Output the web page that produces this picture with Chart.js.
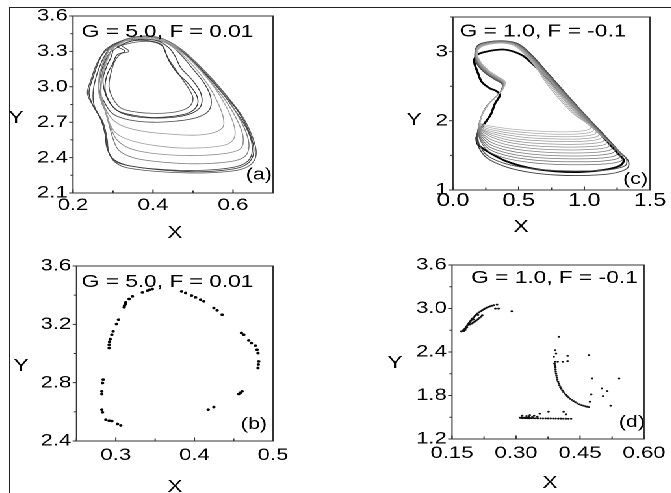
<!DOCTYPE html>
<html>
<head>
<meta charset="utf-8">
<script src="https://cdn.jsdelivr.net/npm/chart.js@4.4.1/dist/chart.umd.min.js"></script>
<style>
  html, body { margin: 0; padding: 0; background: #fff; }
  body { width: 671px; height: 493px; position: relative; overflow: hidden; }
  #frame { position: absolute; left: 9px; top: 7px; right: 0; bottom: 0;
           border-left: 1px solid #222; border-top: 1px solid #222; }
  /* the original figure is stretched sideways, so is this one */
  #wrap { position: absolute; left: 0; top: 0; width: 516px; height: 493px;
          transform: scaleX(1.3); transform-origin: 0 0; }
  #wrap canvas { position: absolute; left: 0; top: 0; }
</style>
</head>
<body>
<div id="frame"></div>
<div id="wrap">
  <canvas id="chartA" width="516" height="493"></canvas>
  <canvas id="chartB" width="516" height="493"></canvas>
  <canvas id="chartC" width="516" height="493"></canvas>
  <canvas id="chartD" width="516" height="493"></canvas>
</div>
<script>
// ---------- axes ----------
const aXTicks = [0.2, 0.3, 0.4, 0.5, 0.6, 0.7];
const aXLabels = ['0.2', '', '0.4', '', '0.6', ''];
const aYTicks = [2.1, 2.25, 2.4, 2.55, 2.7, 2.85, 3.0, 3.15, 3.3, 3.45, 3.6];
const aYLabels = ['2.1', '', '2.4', '', '2.7', '', '3.0', '', '3.3', '', '3.6'];

const bXTicks = [0.25, 0.3, 0.35, 0.4, 0.45, 0.5];
const bXLabels = ['', '0.3', '', '0.4', '', '0.5'];
const bYTicks = [2.4, 2.6, 2.8, 3.0, 3.2, 3.4, 3.6];
const bYLabels = ['2.4', '', '2.8', '', '3.2', '', '3.6'];

const cXTicks = [0, 0.25, 0.5, 0.75, 1.0, 1.25, 1.5];
const cXLabels = ['0.0', '', '0.5', '', '1.0', '', '1.5'];
const cYTicks = [1, 1.5, 2, 2.5, 3, 3.5];
const cYLabels = ['1', '', '2', '', '3', ''];

const dXTicks = [0.15, 0.225, 0.3, 0.375, 0.45, 0.525, 0.6];
const dXLabels = ['0.15', '', '0.30', '', '0.45', '', '0.60'];
const dYTicks = [1.2, 1.5, 1.8, 2.1, 2.4, 2.7, 3.0, 3.3, 3.6];
const dYLabels = ['1.2', '', '1.8', '', '2.4', '', '3.0', '', '3.6'];

// ---------- (a) G = 5.0, F = 0.01 : trajectory ----------
const aOuter1 = [[0.30,3.36],[0.34,3.41],[0.38,3.42],[0.42,3.40],[0.46,3.33],[0.50,3.22],[0.54,3.08],[0.58,2.93],[0.615,2.78],[0.64,2.62],[0.652,2.48],[0.645,2.38],[0.62,2.32],[0.57,2.29],[0.51,2.28],[0.44,2.29],[0.38,2.31],[0.33,2.34],[0.30,2.39],[0.285,2.48],[0.28,2.6],[0.27,2.72],[0.25,2.84],[0.24,2.95],[0.25,3.08],[0.265,3.22],[0.28,3.31],[0.30,3.36]];
const aOuter2 = [[0.31,3.37],[0.35,3.42],[0.39,3.43],[0.43,3.40],[0.47,3.32],[0.51,3.2],[0.55,3.06],[0.59,2.9],[0.625,2.74],[0.648,2.58],[0.658,2.45],[0.65,2.36],[0.62,2.30],[0.56,2.275],[0.49,2.27],[0.42,2.28],[0.36,2.30],[0.32,2.33],[0.295,2.40],[0.285,2.52],[0.28,2.64],[0.265,2.76],[0.245,2.87],[0.236,2.95],[0.245,3.06],[0.26,3.2],[0.28,3.3],[0.31,3.37]];
const aOuter3 = [[0.29,3.33],[0.33,3.40],[0.37,3.42],[0.41,3.41],[0.45,3.35],[0.49,3.25],[0.53,3.11],[0.57,2.96],[0.605,2.8],[0.635,2.64],[0.648,2.5],[0.642,2.39],[0.615,2.33],[0.56,2.30],[0.49,2.29],[0.42,2.30],[0.36,2.32],[0.31,2.36],[0.29,2.44],[0.285,2.56],[0.275,2.7],[0.255,2.82],[0.25,2.92],[0.255,3.05],[0.27,3.2],[0.29,3.33]];
const aMid1 = [[0.29,3.31],[0.33,3.39],[0.37,3.41],[0.42,3.39],[0.46,3.31],[0.5,3.18],[0.535,3.03],[0.56,2.88],[0.575,2.75],[0.575,2.66],[0.55,2.61],[0.5,2.59],[0.44,2.6],[0.38,2.62],[0.33,2.66],[0.30,2.72],[0.28,2.82],[0.265,2.94],[0.265,3.08],[0.275,3.2],[0.29,3.31]];
const aMid2 = [[0.3,3.33],[0.34,3.40],[0.38,3.42],[0.43,3.39],[0.47,3.3],[0.51,3.17],[0.55,3.01],[0.58,2.85],[0.6,2.7],[0.605,2.59],[0.59,2.52],[0.55,2.49],[0.48,2.48],[0.41,2.5],[0.35,2.54],[0.31,2.6],[0.29,2.7],[0.28,2.82],[0.27,2.95],[0.275,3.1],[0.285,3.22],[0.3,3.33]];
const aMid3 = [[0.29,3.32],[0.33,3.39],[0.37,3.42],[0.42,3.40],[0.46,3.32],[0.5,3.21],[0.54,3.06],[0.58,2.89],[0.61,2.72],[0.625,2.58],[0.62,2.48],[0.59,2.44],[0.53,2.42],[0.46,2.42],[0.39,2.44],[0.34,2.48],[0.31,2.55],[0.295,2.65],[0.285,2.76],[0.27,2.88],[0.265,3.0],[0.27,3.15],[0.28,3.25],[0.29,3.32]];
const aMid4 = [[0.3,3.34],[0.34,3.41],[0.38,3.42],[0.42,3.41],[0.46,3.34],[0.5,3.23],[0.54,3.09],[0.58,2.93],[0.61,2.77],[0.632,2.62],[0.64,2.5],[0.63,2.41],[0.6,2.37],[0.54,2.35],[0.47,2.35],[0.4,2.37],[0.35,2.4],[0.315,2.46],[0.3,2.56],[0.29,2.68],[0.28,2.8],[0.27,2.92],[0.27,3.05],[0.28,3.2],[0.3,3.34]];
const aCore1 = [[0.31,3.34],[0.35,3.39],[0.39,3.39],[0.42,3.36],[0.43,3.3],[0.44,3.22],[0.46,3.12],[0.49,3.02],[0.51,2.92],[0.51,2.84],[0.49,2.78],[0.45,2.75],[0.40,2.74],[0.35,2.76],[0.31,2.8],[0.29,2.88],[0.28,2.98],[0.285,3.1],[0.3,3.2],[0.31,3.27],[0.33,3.3],[0.31,3.34]];
const aCore2 = [[0.30,3.31],[0.33,3.37],[0.37,3.40],[0.41,3.39],[0.44,3.33],[0.455,3.26],[0.47,3.16],[0.5,3.05],[0.52,2.94],[0.52,2.84],[0.5,2.78],[0.46,2.745],[0.41,2.735],[0.36,2.745],[0.32,2.78],[0.295,2.85],[0.28,2.95],[0.275,3.07],[0.285,3.18],[0.295,3.25],[0.30,3.31]];
const aCore3 = [[0.32,3.35],[0.36,3.38],[0.40,3.38],[0.425,3.34],[0.435,3.26],[0.45,3.18],[0.47,3.08],[0.49,2.98],[0.5,2.9],[0.49,2.83],[0.46,2.79],[0.41,2.775],[0.36,2.785],[0.32,2.82],[0.3,2.9],[0.29,3.0],[0.295,3.12],[0.305,3.22],[0.32,3.28],[0.34,3.3],[0.32,3.35]];
const aCore4 = [[0.29,3.28],[0.31,3.36],[0.35,3.4],[0.4,3.4],[0.44,3.36],[0.47,3.27],[0.5,3.15],[0.53,3.02],[0.545,2.9],[0.54,2.8],[0.51,2.74],[0.46,2.71],[0.40,2.7],[0.34,2.72],[0.3,2.77],[0.28,2.86],[0.265,2.98],[0.27,3.12],[0.28,3.22],[0.29,3.28]];

// ---------- (b) G = 5.0, F = 0.01 : Poincare section ----------
const bUpperLeft = [[0.3465,3.442],[0.343,3.437],[0.3402,3.431],[0.3338,3.419],[0.3211,3.392],[0.3169,3.374],[0.3127,3.351],[0.3118,3.338],[0.311,3.328],[0.3106,3.317],[0.3034,3.232],[0.3008,3.202],[0.2966,3.152],[0.2949,3.129],[0.2928,3.099],[0.292,3.08],[0.2915,3.06],[0.2915,3.038]];
const bLowerLeft = [[0.2839,2.821],[0.2831,2.798],[0.2822,2.741],[0.2822,2.722],[0.2822,2.615],[0.2831,2.597],[0.2873,2.546],[0.2915,2.539],[0.295,2.537],[0.3021,2.517],[0.3063,2.507]];
const bUpperRight = [[0.3837,3.426],[0.3888,3.415],[0.3964,3.397],[0.4015,3.385],[0.4078,3.369],[0.412,3.358],[0.4247,3.312],[0.4289,3.296],[0.4353,3.266]];
const bRight = [[0.4598,3.141],[0.4628,3.129],[0.4691,3.09],[0.4725,3.072],[0.4775,3.054],[0.4797,3.026],[0.4809,3.003],[0.4818,2.946],[0.4813,2.925],[0.4809,2.901]];
const bLowerRight = [[0.4564,2.722],[0.4585,2.731],[0.4606,2.741],[0.4175,2.615],[0.4247,2.633]];

// ---------- (c) G = 1.0, F = -0.1 : trajectory ----------
const cFan1 = [[0.205,1.97],[0.23,2.12],[0.28,2.26],[0.34,2.37],[0.385,2.47],[0.395,2.57],[0.34,2.64],[0.27,2.73],[0.21,2.85],[0.185,2.97],[0.21,3.06],[0.29,3.11],[0.39,3.12],[0.47,3.08],[0.54,2.97],[0.62,2.8],[0.72,2.52],[0.83,2.27],[0.93,2.08],[1.01,1.98],[1.05,1.93],[1.04,1.88],[0.97,1.85],[0.85,1.84],[0.72,1.845],[0.58,1.86],[0.45,1.88],[0.33,1.91],[0.25,1.94],[0.205,1.97]];
const cFan2 = [[0.202,1.96],[0.228,2.11],[0.278,2.255],[0.338,2.365],[0.383,2.465],[0.393,2.565],[0.338,2.638],[0.268,2.728],[0.208,2.85],[0.183,2.97],[0.208,3.065],[0.29,3.112],[0.39,3.122],[0.472,3.085],[0.545,2.97],[0.625,2.795],[0.73,2.525],[0.845,2.27],[0.945,2.075],[1.025,1.955],[1.07,1.895],[1.06,1.845],[0.985,1.815],[0.86,1.805],[0.725,1.81],[0.58,1.825],[0.445,1.85],[0.325,1.885],[0.245,1.92],[0.202,1.96]];
const cFan3 = [[0.20,1.95],[0.225,2.1],[0.275,2.25],[0.335,2.36],[0.38,2.46],[0.39,2.56],[0.335,2.635],[0.265,2.725],[0.205,2.85],[0.18,2.97],[0.205,3.07],[0.29,3.115],[0.39,3.125],[0.475,3.09],[0.55,2.97],[0.63,2.79],[0.74,2.53],[0.86,2.27],[0.96,2.07],[1.04,1.93],[1.09,1.86],[1.08,1.81],[1.0,1.78],[0.87,1.77],[0.73,1.775],[0.58,1.79],[0.44,1.82],[0.32,1.86],[0.24,1.9],[0.20,1.95]];
const cFan4 = [[0.199,1.94],[0.224,2.095],[0.272,2.245],[0.332,2.358],[0.379,2.458],[0.389,2.558],[0.332,2.632],[0.262,2.722],[0.202,2.848],[0.179,2.97],[0.202,3.072],[0.288,3.118],[0.39,3.128],[0.478,3.09],[0.555,2.97],[0.638,2.79],[0.75,2.53],[0.875,2.26],[0.975,2.055],[1.06,1.9],[1.11,1.825],[1.1,1.775],[1.015,1.745],[0.88,1.735],[0.735,1.74],[0.58,1.755],[0.435,1.79],[0.315,1.835],[0.235,1.885],[0.199,1.94]];
const cFan5 = [[0.198,1.93],[0.222,2.09],[0.27,2.24],[0.33,2.355],[0.378,2.455],[0.388,2.555],[0.33,2.63],[0.26,2.72],[0.2,2.845],[0.178,2.97],[0.2,3.075],[0.285,3.12],[0.39,3.13],[0.48,3.09],[0.56,2.97],[0.645,2.79],[0.76,2.53],[0.89,2.25],[0.99,2.04],[1.08,1.87],[1.13,1.79],[1.12,1.74],[1.03,1.71],[0.89,1.70],[0.74,1.705],[0.58,1.72],[0.43,1.755],[0.31,1.81],[0.23,1.87],[0.198,1.93]];
const cFan6 = [[0.196,1.92],[0.221,2.085],[0.269,2.238],[0.329,2.352],[0.376,2.452],[0.387,2.552],[0.329,2.628],[0.259,2.718],[0.199,2.842],[0.177,2.967],[0.199,3.075],[0.285,3.122],[0.39,3.132],[0.48,3.092],[0.562,2.97],[0.65,2.785],[0.77,2.52],[0.9,2.24],[1.005,2.02],[1.1,1.835],[1.15,1.755],[1.14,1.70],[1.045,1.67],[0.9,1.66],[0.745,1.665],[0.58,1.683],[0.425,1.722],[0.305,1.785],[0.228,1.855],[0.196,1.92]];
const cFan7 = [[0.195,1.91],[0.22,2.08],[0.268,2.235],[0.328,2.35],[0.375,2.45],[0.386,2.55],[0.328,2.625],[0.258,2.715],[0.198,2.84],[0.176,2.965],[0.198,3.075],[0.285,3.125],[0.39,3.135],[0.48,3.095],[0.565,2.97],[0.655,2.78],[0.78,2.51],[0.91,2.23],[1.02,2.0],[1.12,1.8],[1.17,1.72],[1.16,1.66],[1.06,1.63],[0.91,1.62],[0.75,1.625],[0.58,1.645],[0.42,1.69],[0.30,1.76],[0.225,1.84],[0.195,1.91]];
const cFan8 = [[0.193,1.9],[0.219,2.075],[0.266,2.232],[0.326,2.348],[0.373,2.448],[0.385,2.548],[0.326,2.622],[0.256,2.712],[0.196,2.838],[0.175,2.962],[0.197,3.078],[0.282,3.128],[0.39,3.138],[0.483,3.098],[0.568,2.97],[0.66,2.775],[0.785,2.505],[0.92,2.22],[1.035,1.98],[1.135,1.775],[1.19,1.685],[1.18,1.62],[1.075,1.59],[0.92,1.578],[0.755,1.583],[0.58,1.605],[0.42,1.65],[0.295,1.725],[0.222,1.82],[0.193,1.9]];
const cFan9 = [[0.192,1.89],[0.218,2.07],[0.265,2.23],[0.325,2.345],[0.372,2.445],[0.384,2.545],[0.325,2.62],[0.255,2.71],[0.195,2.835],[0.174,2.96],[0.196,3.08],[0.28,3.13],[0.39,3.14],[0.485,3.1],[0.57,2.97],[0.665,2.77],[0.79,2.5],[0.93,2.21],[1.05,1.96],[1.15,1.75],[1.21,1.65],[1.2,1.58],[1.09,1.545],[0.93,1.535],[0.76,1.54],[0.58,1.565],[0.42,1.61],[0.29,1.69],[0.22,1.8],[0.192,1.89]];
const cFan10 = [[0.191,1.88],[0.217,2.065],[0.263,2.228],[0.323,2.342],[0.371,2.442],[0.383,2.542],[0.323,2.618],[0.253,2.708],[0.193,2.832],[0.173,2.96],[0.195,3.08],[0.28,3.132],[0.39,3.142],[0.487,3.1],[0.572,2.97],[0.67,2.765],[0.795,2.495],[0.94,2.195],[1.065,1.935],[1.17,1.72],[1.23,1.615],[1.22,1.54],[1.105,1.503],[0.94,1.492],[0.765,1.497],[0.58,1.522],[0.415,1.572],[0.285,1.655],[0.218,1.775],[0.191,1.88]];
const cFan11 = [[0.19,1.87],[0.216,2.06],[0.262,2.225],[0.322,2.34],[0.37,2.44],[0.382,2.54],[0.322,2.615],[0.252,2.705],[0.192,2.83],[0.172,2.96],[0.194,3.08],[0.28,3.135],[0.39,3.145],[0.49,3.1],[0.575,2.97],[0.675,2.76],[0.8,2.49],[0.95,2.18],[1.08,1.91],[1.19,1.69],[1.25,1.58],[1.24,1.5],[1.12,1.46],[0.95,1.45],[0.77,1.455],[0.58,1.48],[0.41,1.535],[0.28,1.62],[0.215,1.75],[0.19,1.87]];
const cFan12 = [[0.189,1.86],[0.215,2.055],[0.261,2.222],[0.321,2.338],[0.369,2.438],[0.381,2.538],[0.321,2.612],[0.251,2.702],[0.191,2.828],[0.171,2.958],[0.193,3.082],[0.28,3.138],[0.39,3.148],[0.49,3.102],[0.578,2.97],[0.68,2.755],[0.81,2.475],[0.96,2.165],[1.09,1.895],[1.205,1.66],[1.27,1.545],[1.26,1.46],[1.135,1.418],[0.96,1.408],[0.775,1.412],[0.58,1.44],[0.405,1.498],[0.275,1.59],[0.212,1.73],[0.189,1.86]];
const cFan13 = [[0.188,1.85],[0.214,2.05],[0.26,2.22],[0.32,2.335],[0.368,2.435],[0.38,2.535],[0.32,2.61],[0.25,2.7],[0.19,2.825],[0.17,2.955],[0.192,3.085],[0.28,3.14],[0.39,3.15],[0.49,3.105],[0.58,2.97],[0.685,2.75],[0.82,2.46],[0.97,2.15],[1.1,1.88],[1.22,1.63],[1.29,1.51],[1.28,1.42],[1.15,1.375],[0.97,1.365],[0.78,1.37],[0.58,1.4],[0.4,1.46],[0.27,1.56],[0.21,1.71],[0.188,1.85]];
const cOuter1 = [[0.185,1.8],[0.212,2.04],[0.258,2.215],[0.318,2.33],[0.365,2.43],[0.378,2.53],[0.318,2.605],[0.248,2.695],[0.188,2.82],[0.168,2.95],[0.19,3.085],[0.28,3.14],[0.39,3.15],[0.49,3.11],[0.585,2.97],[0.695,2.74],[0.83,2.45],[0.99,2.12],[1.13,1.83],[1.25,1.58],[1.32,1.45],[1.31,1.35],[1.18,1.29],[0.99,1.275],[0.79,1.28],[0.59,1.31],[0.4,1.38],[0.26,1.5],[0.2,1.66],[0.185,1.8]];
const cOuter2 = [[0.18,1.76],[0.21,2.03],[0.255,2.21],[0.315,2.325],[0.362,2.425],[0.375,2.525],[0.315,2.6],[0.245,2.69],[0.185,2.815],[0.166,2.95],[0.188,3.09],[0.28,3.145],[0.39,3.155],[0.495,3.115],[0.59,2.97],[0.70,2.74],[0.84,2.44],[1.0,2.1],[1.15,1.8],[1.27,1.55],[1.335,1.42],[1.325,1.31],[1.2,1.235],[1.0,1.21],[0.8,1.215],[0.6,1.25],[0.41,1.33],[0.26,1.46],[0.195,1.62],[0.18,1.76]];
const cLimit = [[0.178,1.75],[0.2,1.86],[0.255,2.0],[0.29,2.1],[0.32,2.25],[0.356,2.37],[0.33,2.43],[0.28,2.47],[0.22,2.56],[0.19,2.69],[0.165,2.82],[0.165,2.9],[0.2,2.97],[0.28,3.01],[0.38,3.03],[0.46,3.0],[0.54,2.93],[0.64,2.76],[0.76,2.53],[0.9,2.25],[1.04,1.97],[1.17,1.71],[1.26,1.52],[1.3,1.43],[1.27,1.35],[1.15,1.29],[0.98,1.26],[0.78,1.27],[0.58,1.32],[0.4,1.42],[0.26,1.56],[0.19,1.66],[0.178,1.75]];

// ---------- (d) G = 1.0, F = -0.1 : Poincare section ----------
const dUpperArc = [[0.1746,2.692],[0.1765,2.7],[0.1785,2.71],[0.1805,2.722],[0.1823,2.733],[0.1842,2.75],[0.1862,2.77],[0.188,2.786],[0.19,2.802],[0.192,2.816],[0.1938,2.829],[0.1958,2.845],[0.1977,2.861],[0.2008,2.88],[0.2038,2.898],[0.2065,2.914],[0.2092,2.93],[0.213,2.946],[0.2169,2.962],[0.2208,2.976],[0.2246,2.99],[0.2285,3.002],[0.2323,3.013],[0.2362,3.022],[0.24,3.031],[0.2438,3.038],[0.2477,3.044]];
const dUpperStrand = [[0.1915,2.779],[0.1954,2.792],[0.1992,2.806],[0.203,2.82],[0.2069,2.834],[0.2108,2.852],[0.2146,2.87],[0.2185,2.888],[0.2208,2.907],[0.2515,2.999],[0.2592,2.999],[0.2554,3.054],[0.29,2.962],[0.178,2.69],[0.172,2.685],[0.181,2.705],[0.185,2.74],[0.2,2.85],[0.211,2.91]];
const dMidArc = [[0.392,2.2],[0.3923,2.182],[0.3927,2.155],[0.3931,2.127],[0.3938,2.1],[0.3946,2.072],[0.3957,2.045],[0.3969,2.017],[0.3984,1.991],[0.4,1.966],[0.4018,1.941],[0.4038,1.916],[0.406,1.893],[0.4085,1.87],[0.411,1.849],[0.4138,1.829],[0.4168,1.81],[0.42,1.792],[0.4234,1.773],[0.4269,1.755],[0.4308,1.739],[0.4346,1.723],[0.439,1.707],[0.4438,1.691],[0.4488,1.679],[0.4538,1.668],[0.4585,1.659],[0.4631,1.65],[0.467,1.645],[0.4708,1.641]];
const dMidTop = [[0.4,2.609],[0.3915,2.425],[0.3938,2.379],[0.3885,2.334],[0.3915,2.265],[0.3977,2.265],[0.4092,2.265],[0.4208,2.347],[0.4208,2.274],[0.39,2.24],[0.391,2.22]];
const dRightScatter = [[0.4708,2.357],[0.4785,2.035],[0.4762,1.815],[0.4731,1.714],[0.5008,1.898],[0.5138,1.861],[0.5038,1.792],[0.5215,1.659],[0.5415,2.035]];
const dBottomRow = [[0.309,1.494],[0.311,1.49],[0.313,1.496],[0.315,1.488],[0.317,1.493],[0.319,1.489],[0.321,1.495],[0.323,1.487],[0.325,1.492],[0.327,1.488],[0.329,1.494],[0.331,1.486],[0.333,1.491],[0.336,1.487],[0.339,1.49],[0.342,1.486],[0.346,1.486],[0.351,1.485],[0.357,1.485],[0.363,1.484],[0.369,1.484],[0.375,1.483],[0.381,1.483],[0.387,1.482],[0.393,1.482],[0.399,1.481],[0.405,1.481],[0.411,1.48],[0.417,1.48],[0.423,1.479],[0.429,1.479]];
const dBottomScatter = [[0.3146,1.521],[0.3246,1.517],[0.3323,1.53],[0.3423,1.521],[0.35,1.507],[0.3554,1.549],[0.3762,1.576],[0.4115,1.576],[0.4169,1.54],[0.338,1.505],[0.33,1.51]];

// ---------- helpers ----------
Chart.defaults.font.family = '"Liberation Sans", Arial, Helvetica, sans-serif';
Chart.defaults.color = '#000';

const toXY = arr => arr.map(([x, y]) => ({ x, y }));

function loop(arr, color, width) {
    return { data: toXY(arr), showLine: true, borderColor: color, borderWidth: width,
             pointRadius: 0, pointHoverRadius: 0, tension: 0.35, fill: false };
}

function dots(arr, r, color) {
    return { data: toXY(arr), showLine: false, pointRadius: r, pointHoverRadius: r,
             pointBackgroundColor: color, pointBorderWidth: 0 };
}

function axis(ticks, labels, min, max, pad, size, isY) {
    return {
        type: 'linear', min, max,
        grid: { display: false, drawTicks: false }, border: { display: false },
        afterBuildTicks: s => { s.ticks = ticks.map(v => ({ value: v })); },
        afterFit: s => { if (isY) s.width = 40; else s.height = 30; },
        ticks: { autoSkip: false, maxRotation: 0, minRotation: 0, padding: pad,
                 color: '#000', font: { size }, callback: (v, i) => labels[i] }
    };
}

// box, tick marks and panel texts
const panelDeco = {
    id: 'panelDeco',
    afterDraw(chart, args, o) {
        const { ctx, chartArea: a, scales } = chart;
        ctx.save();
        ctx.strokeStyle = '#333';
        ctx.lineWidth = 1;
        ctx.strokeRect(a.left, a.top, a.right - a.left, a.bottom - a.top);

        ctx.beginPath();
        scales.x.ticks.forEach(t => {
            const px = scales.x.getPixelForValue(t.value);
            ctx.moveTo(px, a.bottom);
            ctx.lineTo(px, a.bottom - (t.label ? 3.5 : 2.5));
        });
        scales.y.ticks.forEach(t => {
            const py = scales.y.getPixelForValue(t.value);
            ctx.moveTo(a.left, py);
            ctx.lineTo(a.left - (t.label ? 3 : 2), py);
        });
        ctx.stroke();

        ctx.fillStyle = '#000';
        ctx.font = '17.5px "Liberation Sans", Arial, sans-serif';
        ctx.textBaseline = 'alphabetic';
        ctx.textAlign = 'center';
        ctx.fillText(o.title, o.titleAt[0], o.titleAt[1]);
        ctx.font = '16.5px "Liberation Sans", Arial, sans-serif';
        ctx.textAlign = 'right';
        ctx.fillText(o.letter, o.letterAt[0], o.letterAt[1]);
        ctx.font = '17.5px "Liberation Sans", Arial, sans-serif';
        ctx.textAlign = 'center';
        ctx.textBaseline = 'middle';
        ctx.fillText('X', o.xAt[0], o.xAt[1]);
        ctx.fillText('Y', o.yAt[0], o.yAt[1]);
        ctx.restore();
    }
};

function panel(id, datasets, x, y, padding, deco) {
    return new Chart(document.getElementById(id), {
        type: 'scatter',
        data: { datasets },
        options: {
            responsive: false,
            animation: false,
            devicePixelRatio: 2,
            events: [],
            layout: { padding },
            plugins: { legend: { display: false }, tooltip: { enabled: false }, panelDeco: deco },
            scales: { x, y }
        },
        plugins: [panelDeco]
    });
}

// (a)
panel('chartA', [
    loop(aMid1, '#9a9a9a', 0.8),
    loop(aMid2, '#a0a0a0', 0.8),
    loop(aMid3, '#8c8c8c', 0.8),
    loop(aMid4, '#7a7a7a', 0.8),
    loop(aOuter1, '#3c3c3c', 0.8),
    loop(aOuter2, '#555555', 0.8),
    loop(aOuter3, '#444444', 0.8),
    loop(aCore1, '#333333', 0.8),
    loop(aCore2, '#3a3a3a', 0.8),
    loop(aCore3, '#555555', 0.8),
    loop(aCore4, '#444444', 0.8)
], axis(aXTicks, aXLabels, 0.2, 0.7, 2, 17, false),
   axis(aYTicks, aYLabels, 2.1, 3.6, 4, 17, true),
   { left: 16.15, right: 306, top: 16, bottom: 270 },
   { title: 'G = 5.0, F = 0.01', titleAt: [128.8, 37], letter: '(a)', letterAt: [209.2, 179.5],
     xAt: [134.6, 233], yAt: [12.3, 118] });

// (b)
panel('chartB', [
    dots(bUpperLeft, 1.3, '#000'),
    dots(bLowerLeft, 1.3, '#000'),
    dots(bUpperRight, 1.3, '#000'),
    dots(bRight, 1.3, '#000'),
    dots(bLowerRight, 1.3, '#000')
], axis(bXTicks, bXLabels, 0.25, 0.5, 4, 17, false),
   axis(bYTicks, bYLabels, 2.4, 3.6, 4, 17, true),
   { left: 18.85, right: 306, top: 266, bottom: 22 },
   { title: 'G = 5.0, F = 0.01', titleAt: [128.8, 287], letter: '(b)', letterAt: [205.4, 429],
     xAt: [134.6, 487], yAt: [16.2, 366] });

// (c)
const cFans = [cFan1, cFan2, cFan3, cFan4, cFan5, cFan6, cFan7, cFan8, cFan9, cFan10, cFan11, cFan12, cFan13];
const cFanGreys = ['#b0b0b0', '#aaaaaa', '#a4a4a4', '#9e9e9e', '#989898', '#929292', '#8c8c8c',
                   '#868686', '#808080', '#7a7a7a', '#747474', '#6e6e6e', '#686868'];
panel('chartC', [
    ...cFans.map((f, i) => loop(f, cFanGreys[i], 0.75)),
    loop(cOuter1, '#505050', 0.9),
    loop(cOuter2, '#404040', 0.9),
    loop(cLimit, '#000000', 1.8)
], axis(cXTicks, cXLabels, 0, 1.5, 0, 18, false),
   axis(cYTicks, cYLabels, 1, 3.5, 4, 17, true),
   { left: 308.46, right: 16, top: 17, bottom: 273 },
   { title: 'G = 1.0, F = -0.1', titleAt: [417.7, 36.5], letter: '(c)', letterAt: [498.5, 184],
     xAt: [400.8, 227], yAt: [318.5, 120] });

// (d)
panel('chartD', [
    dots(dUpperArc, 1.0, '#111'),
    dots(dUpperStrand, 1.0, '#111'),
    dots(dMidArc, 0.95, '#111'),
    dots(dMidTop, 0.95, '#111'),
    dots(dRightScatter, 0.95, '#111'),
    dots(dBottomRow, 0.95, '#111'),
    dots(dBottomScatter, 0.95, '#111')
], axis(dXTicks, dXLabels, 0.15, 0.6, 4, 17, false),
   axis(dYTicks, dYLabels, 1.2, 3.6, 4, 17, true),
   { left: 307.7, right: 17.5, top: 265, bottom: 24 },
   { title: 'G = 1.0, F = -0.1', titleAt: [426.5, 283], letter: '(d)', letterAt: [496.2, 427],
     xAt: [423.1, 483], yAt: [303.8, 363] });
</script>
</body>
</html>
